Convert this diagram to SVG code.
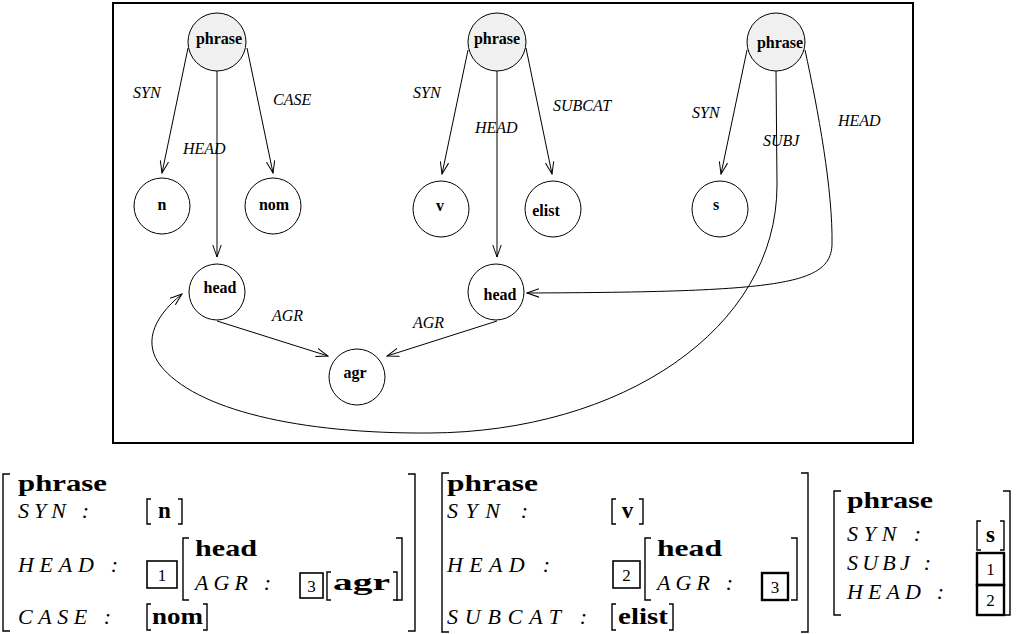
<svg xmlns="http://www.w3.org/2000/svg" width="1018" height="634" viewBox="0 0 1018 634">
<style>
.nd{fill:#fff;stroke:#000;stroke-width:1}
.ph{fill:#f0f0f0;stroke:#000;stroke-width:1}
.nl{font-family:"Liberation Serif","Times New Roman",serif;font-weight:bold;font-size:16px;text-anchor:middle;fill:#000}
.el{font-family:"Liberation Serif","Times New Roman",serif;font-style:italic;font-size:16px;fill:#000}
.ed{fill:none;stroke:#000;stroke-width:1}
.br{fill:none;stroke:#000;stroke-width:1.4}
.bx{fill:none;stroke:#000;stroke-width:1.6}
.bxt{fill:none;stroke:#000;stroke-width:2.4}
.ab{font-family:"Liberation Serif","Times New Roman",serif;font-weight:bold;font-size:23px;fill:#000}
.ai{font-family:"Liberation Serif","Times New Roman",serif;font-style:italic;font-size:22px;fill:#000}
.num{font-family:"Liberation Serif","Times New Roman",serif;font-size:17px;text-anchor:middle;fill:#000}
</style>
<defs>
<marker id="arr" viewBox="0 0 13 10" markerWidth="13" markerHeight="10" refX="12" refY="5" orient="auto" markerUnits="userSpaceOnUse">
<path d="M0,0.8 L12,5 L0,9.2" fill="none" stroke="#000" stroke-width="1"/>
</marker>
</defs>
<rect x="113" y="3" width="800" height="440" fill="#fff" stroke="#000" stroke-width="2"/>
<g id="connectors">
<path class="ed" d="M188,48 L162,173" marker-end="url(#arr)"/>
<path class="ed" d="M247,48 L273,173" marker-end="url(#arr)"/>
<path class="ed" d="M217,71 L217,257" marker-end="url(#arr)"/>
<path class="ed" d="M468,50 L442,174" marker-end="url(#arr)"/>
<path class="ed" d="M526,48 L552,174" marker-end="url(#arr)"/>
<path class="ed" d="M497,71 L497,257" marker-end="url(#arr)"/>
<path class="ed" d="M747,50 L721,174" marker-end="url(#arr)"/>
<path class="ed" d="M805,50 C818,110 833,190 832,245 C830,285 780,292 527,293" marker-end="url(#arr)"/>
<path class="ed" d="M776,71 L777,185 C777,330 620,432 430,433 C300,434 195,410 160,365 C145,345 150,320 182,294" marker-end="url(#arr)"/>
<path class="ed" d="M217,321 L328,356" marker-end="url(#arr)"/>
<path class="ed" d="M497,321 L387,356" marker-end="url(#arr)"/>
<text class="el" x="133" y="98">SYN</text>
<text class="el" x="273" y="105">CASE</text>
<text class="el" x="183" y="154">HEAD</text>
<text class="el" x="413" y="98">SYN</text>
<text class="el" x="553" y="111">SUBCAT</text>
<text class="el" x="475" y="133">HEAD</text>
<text class="el" x="692" y="118">SYN</text>
<text class="el" x="838" y="126">HEAD</text>
<text class="el" x="763" y="146">SUBJ</text>
<text class="el" x="272" y="321">AGR</text>
<text class="el" x="413" y="328">AGR</text>
</g>
<g id="phrase1"><circle class="ph" cx="217" cy="42" r="29"/><text class="nl" x="219" y="44">phrase</text></g>
<g id="n"><circle class="nd" cx="162" cy="206" r="28"/><text class="nl" x="162" y="210">n</text></g>
<g id="nom"><circle class="nd" cx="273" cy="206" r="28"/><text class="nl" x="274" y="210">nom</text></g>
<g id="phrase2"><circle class="ph" cx="497" cy="42" r="29"/><text class="nl" x="497" y="44">phrase</text></g>
<g id="v"><circle class="nd" cx="441" cy="209" r="28"/><text class="nl" x="440" y="211">v</text></g>
<g id="elist"><circle class="nd" cx="553" cy="209" r="28"/><text class="nl" x="546" y="216">elist</text></g>
<g id="phrase3"><circle class="ph" cx="776" cy="42" r="29"/><text class="nl" x="780" y="48">phrase</text></g>
<g id="s"><circle class="nd" cx="720" cy="209" r="28"/><text class="nl" x="716" y="210">s</text></g>
<g id="head1"><circle class="nd" cx="217" cy="292" r="28"/><text class="nl" x="220" y="293">head</text></g>
<g id="head2"><circle class="nd" cx="496" cy="292" r="28"/><text class="nl" x="500" y="300">head</text></g>
<g id="agr"><circle class="nd" cx="357" cy="377" r="28"/><text class="nl" x="355" y="378">agr</text></g>
<g id="avm1">
<path class="br" d="M10,474 L3,474 L3,631 L10,631"/>
<path class="br" d="M408,474 L415,474 L415,631 L408,631"/>
<text class="ab" x="18" y="491" textLength="89" lengthAdjust="spacingAndGlyphs">phrase</text>
<text class="ai" x="18" y="518" textLength="71" lengthAdjust="spacing">SYN :</text>
<path class="br" d="M151,499 L147,499 L147,524 L151,524"/>
<path class="br" d="M178,499 L182,499 L182,524 L178,524"/>
<text class="ab" x="164.5" y="518" text-anchor="middle">n</text>
<text class="ai" x="18" y="572" textLength="100" lengthAdjust="spacing">HEAD :</text>
<rect class="bx" x="147" y="561" width="30" height="27"/>
<text class="num" x="162" y="581">1</text>
<path class="br" d="M189,538 L183,538 L183,600 L189,600"/>
<text class="ab" x="195" y="556" textLength="62" lengthAdjust="spacingAndGlyphs">head</text>
<text class="ai" x="195" y="590" textLength="76" lengthAdjust="spacing">AGR :</text>
<rect class="bx" x="300" y="573" width="23" height="25"/>
<text class="num" x="311.5" y="592">3</text>
<path class="br" d="M331,572 L327,572 L327,600 L331,600"/>
<path class="br" d="M393,572 L397,572 L397,600 L393,600"/>
<text class="ab" x="333" y="590" textLength="57" lengthAdjust="spacingAndGlyphs">agr</text>
<path class="br" d="M396,538 L402,538 L402,600 L396,600"/>
<text class="ai" x="18" y="624" textLength="93" lengthAdjust="spacing">CASE :</text>
<path class="br" d="M151,604 L147,604 L147,630 L151,630"/>
<path class="br" d="M203,604 L207,604 L207,630 L203,630"/>
<text class="ab" x="152" y="624" textLength="51" lengthAdjust="spacingAndGlyphs">nom</text>
</g>
<g id="avm2">
<path class="br" d="M449,473 L442,473 L442,632 L449,632"/>
<path class="br" d="M801,473 L808,473 L808,632 L801,632"/>
<text class="ab" x="447" y="491" textLength="91" lengthAdjust="spacingAndGlyphs">phrase</text>
<text class="ai" x="447" y="518" textLength="81" lengthAdjust="spacing">SYN :</text>
<path class="br" d="M616,499 L612,499 L612,524 L616,524"/>
<path class="br" d="M639,499 L643,499 L643,524 L639,524"/>
<text class="ab" x="627.5" y="518" text-anchor="middle">v</text>
<text class="ai" x="447" y="572" textLength="103" lengthAdjust="spacing">HEAD :</text>
<rect class="bx" x="613" y="561" width="27" height="27"/>
<text class="num" x="626.5" y="581">2</text>
<path class="br" d="M651,538 L645,538 L645,600 L651,600"/>
<text class="ab" x="657" y="556" textLength="65" lengthAdjust="spacingAndGlyphs">head</text>
<text class="ai" x="657" y="590" textLength="76" lengthAdjust="spacing">AGR :</text>
<rect class="bxt" x="762" y="573" width="26" height="27"/>
<text class="num" x="775" y="593">3</text>
<path class="br" d="M791,538 L797,538 L797,600 L791,600"/>
<text class="ai" x="447" y="624" textLength="140" lengthAdjust="spacing">SUBCAT :</text>
<path class="br" d="M616,604 L612,604 L612,630 L616,630"/>
<path class="br" d="M669,604 L673,604 L673,630 L669,630"/>
<text class="ab" x="618" y="624" textLength="50" lengthAdjust="spacingAndGlyphs">elist</text>
</g>
<g id="avm3">
<path class="br" d="M841,491 L834,491 L834,615 L841,615"/>
<path class="br" d="M1003,491 L1010,491 L1010,615 L1003,615"/>
<text class="ab" x="847" y="508" textLength="86" lengthAdjust="spacingAndGlyphs">phrase</text>
<text class="ai" x="847" y="541" textLength="74" lengthAdjust="spacing">SYN :</text>
<path class="br" d="M981,521 L977,521 L977,550 L981,550"/>
<path class="br" d="M1000,521 L1004,521 L1004,550 L1000,550"/>
<text class="ab" x="990.5" y="542" text-anchor="middle">s</text>
<text class="ai" x="847" y="570" textLength="84" lengthAdjust="spacing">SUBJ :</text>
<rect class="bxt" x="977" y="553" width="27" height="32"/>
<text class="num" x="990.5" y="575">1</text>
<text class="ai" x="847" y="599" textLength="97" lengthAdjust="spacing">HEAD :</text>
<rect class="bxt" x="977" y="585" width="27" height="30"/>
<text class="num" x="990.5" y="606">2</text>
</g>
</svg>
